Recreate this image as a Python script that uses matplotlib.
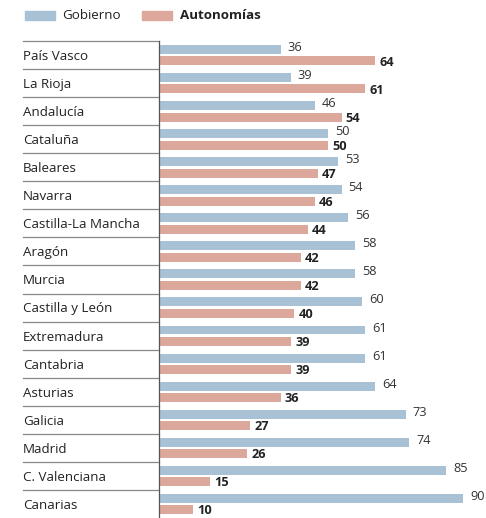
import matplotlib
matplotlib.use("Agg")
import matplotlib.pyplot as plt
import matplotlib.transforms as mtransforms
from matplotlib.patches import Rectangle

# datos
regiones = ["País Vasco", "La Rioja", "Andalucía", "Cataluña", "Baleares", "Navarra",
            "Castilla-La Mancha", "Aragón", "Murcia", "Castilla y León", "Extremadura",
            "Cantabria", "Asturias", "Galicia", "Madrid", "C. Valenciana", "Canarias"]
gobierno = [36, 39, 46, 50, 53, 54, 56, 58, 58, 60, 61, 61, 64, 73, 74, 85, 90]
autonomias = [64, 61, 54, 50, 47, 46, 44, 42, 42, 40, 39, 39, 36, 27, 26, 15, 10]
series = ["Gobierno", "Autonomías"]

azul = "#a9c1d4"
rosa = "#dca89c"
texto = "#222222"

plt.rcParams["font.family"] = ["Open Sans", "DejaVu Sans"]

W, H = 486, 518
fig = plt.figure(figsize=(W / 100, H / 100), dpi=100)
ax = fig.add_axes([159 / W, 0, 327 / W, 477 / H])

n = len(regiones)
ys = list(range(n))
h = 0.32
ax.barh([y - 0.2 for y in ys], gobierno, height=h, color=azul)
ax.barh([y + 0.21 for y in ys], autonomias, height=h, color=rosa)

for y, g, a in zip(ys, gobierno, autonomias):
    ax.annotate(str(g), xy=(g, y - 0.27), xytext=(5, 0), textcoords="offset points",
                ha="left", va="center", fontsize=9.2, color="#333333")
    ax.annotate(str(a), xy=(a, y + 0.25), xytext=(3, 0), textcoords="offset points",
                ha="left", va="center", fontsize=9.2, fontweight="bold", color=texto)

ax.set_xlim(0, 96.7)
ax.set_ylim(n - 0.5, -0.5)
ax.axis("off")

# etiquetas y líneas separadoras
trans = mtransforms.blended_transform_factory(ax.transAxes, ax.transData)
x0 = (23 - 159) / 327
for y, r in zip(ys, regiones):
    ax.text(x0, y + 0.05, r, transform=trans, ha="left", va="center",
            fontsize=9.6, color=texto)
    ax.plot([x0, 0], [y - 0.5, y - 0.5], transform=trans, color="#888888",
            lw=0.9, clip_on=False)
ax.plot([0, 0], [-0.5, n - 0.5], transform=trans, color="#555555", lw=0.9, clip_on=False)

# leyenda
for (px, tx), lab, col, peso in zip([(25, 62), (142, 180)], series, [azul, rosa],
                                     ["normal", "bold"]):
    fig.patches.append(Rectangle((px / W, 1 - 20 / H), 30 / W, 9 / H,
                                 transform=fig.transFigure, color=col))
    fig.text(tx / W, 1 - 15.5 / H, lab, ha="left", va="center", fontsize=9.6,
             fontweight=peso, color=texto)

fig.savefig("out.png", dpi=100)
